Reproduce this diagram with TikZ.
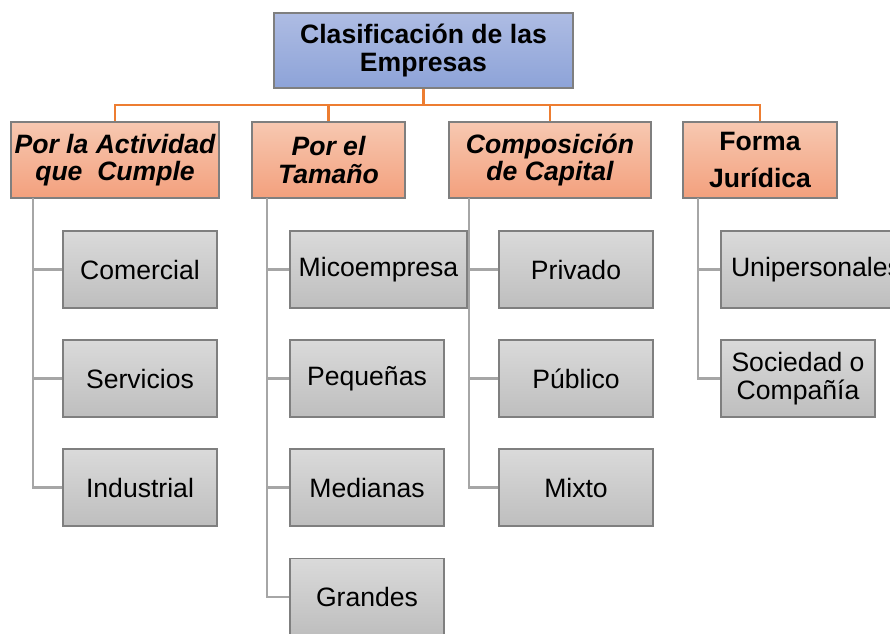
\documentclass[tikz,border=0pt]{standalone}
\usepackage{fontspec}
\setmainfont{Liberation Sans}
\usepackage{xcolor}
\usepackage{tikz}
\usetikzlibrary{shapes,arrows,positioning}

\definecolor{blueA}{HTML}{AEBCE3}
\definecolor{blueB}{HTML}{8DA3D8}
\definecolor{orangeA}{HTML}{F7C8B1}
\definecolor{orangeB}{HTML}{F3A07D}
\definecolor{greyA}{HTML}{DADADA}
\definecolor{greyB}{HTML}{BEBEBE}
\definecolor{boxedge}{HTML}{7F7F7F}
\definecolor{orangeline}{HTML}{ED7D31}
\definecolor{greyline}{HTML}{A6A6A6}

\begin{document}
\begin{tikzpicture}[x=0.025cm, y=-0.025cm,
  every node/.style={draw=boxedge, line width=0.8pt, inner sep=0pt, align=center, font=\fontsize{18.9}{19.5}\selectfont},
  titlebox/.style={top color=blueA, bottom color=blueB, minimum width=7.475cm, minimum height=1.875cm, font=\fontsize{18.9}{19.5}\selectfont\bfseries},
  catbox/.style={top color=orangeA, bottom color=orangeB, minimum height=1.9cm, font=\fontsize{18.9}{19.5}\selectfont\bfseries\itshape},
  itembox/.style={top color=greyA, bottom color=greyB, minimum width=3.85cm, minimum height=1.925cm},
  oline/.style={draw=orangeline, line width=2pt},
  gline/.style={draw=greyline, line width=1.6pt}]
\useasboundingbox (0,0) rectangle (890,633);

\coordinate (bus) at (423.5,105);
\coordinate (c1) at (33,198);
\coordinate (c2) at (267,198);
\coordinate (c3) at (469,198);
\coordinate (c4) at (698,198);

\draw[oline] (423.5,50.5) -- (bus);
\draw[oline] (115,160) |- (bus);
\draw[oline] (328.5,160) |- (bus);
\draw[oline] (550,160) |- (bus);
\draw[oline] (760,160) |- (bus);

\node[titlebox] (empresas) at (423.5,50.5) {Clasificación de las\\Empresas};

\node[catbox, minimum width=5.2cm] (actividad) at (115,160) {Por la Actividad\\que~~Cumple};
\node[catbox, minimum width=3.825cm] (tamano) at (328.5,160) {Por el\\Tamaño};
\node[catbox, minimum width=5.05cm] (capital) at (550,160) {Composición\\de Capital};
\node[catbox, minimum width=3.85cm, font=\fontsize{18.9}{19.5}\selectfont\bfseries] (juridica) at (760,160) {Forma\\[7pt]Jurídica};

\node[itembox] (comercial) at (140,269.5) {Comercial};
\node[itembox] (servicios) at (140,378.5) {Servicios};
\node[itembox] (industrial) at (140,487.5) {Industrial};

\node[itembox, minimum width=4.425cm] (micro) at (378.5,269.5) {Micoempresa};
\node[itembox] (pequenas) at (367,378.5) {Pequeñas};
\node[itembox] (medianas) at (367,487.5) {Medianas};
\node[itembox] (grandes) at (367,597) {Grandes};

\node[itembox] (privado) at (576,269.5) {Privado};
\node[itembox] (publico) at (576,378.5) {Público};
\node[itembox] (mixto) at (576,487.5) {Mixto};

\node[itembox, minimum width=4.75cm] (uniper) at (816,269.5) {Unipersonales};
\node[itembox] (sociedad) at (798,378.5) {Sociedad o\\Compañía};

\draw[gline] (c1) |- (comercial.west);
\draw[gline] (c1) |- (servicios.west);
\draw[gline] (c1) |- (industrial.west);
\draw[gline] (c2) |- (micro.west);
\draw[gline] (c2) |- (pequenas.west);
\draw[gline] (c2) |- (medianas.west);
\draw[gline] (c2) |- (grandes.west);
\draw[gline] (c3) |- (privado.west);
\draw[gline] (c3) |- (publico.west);
\draw[gline] (c3) |- (mixto.west);
\draw[gline] (c4) |- (uniper.west);
\draw[gline] (c4) |- (sociedad.west);
\end{tikzpicture}
\end{document}
